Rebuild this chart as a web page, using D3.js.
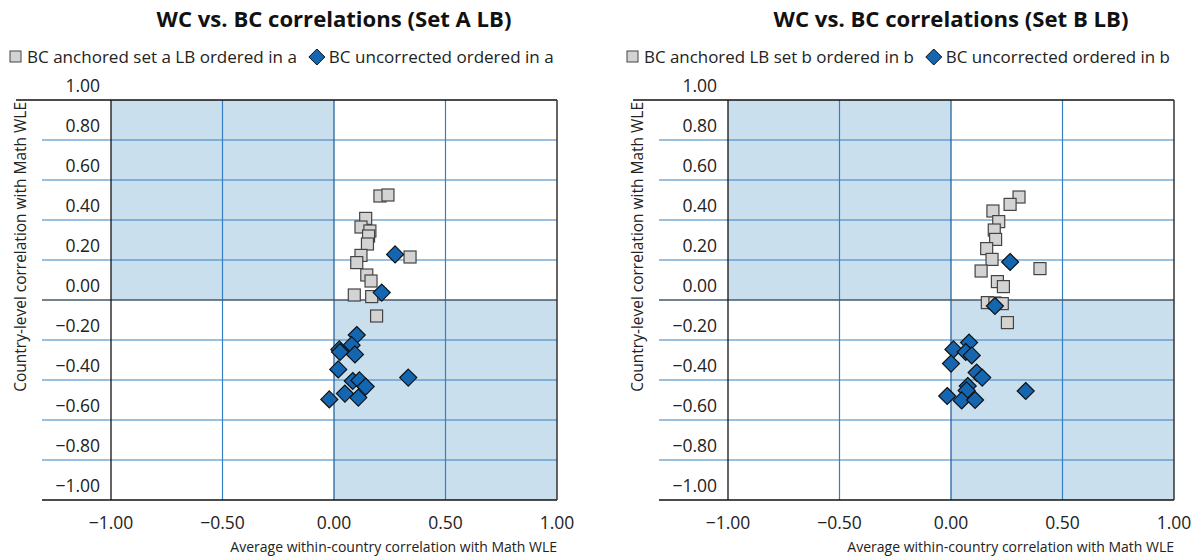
<!DOCTYPE html>
<html>
<head>
<meta charset="utf-8">
<script src="https://cdn.jsdelivr.net/npm/d3@7"></script>
<style>
  body { margin: 0; background: #fff; }
  svg { display: block; font-family: "Open Sans", Lato, sans-serif; }
</style>
</head>
<body>
<svg id="chart" width="1200" height="556"></svg>
<script>
// tick values shared by both panels
var xTicks = [-1, -0.5, 0, 0.5, 1];
var yTicks = [1, 0.8, 0.6, 0.4, 0.2, 0, -0.2, -0.4, -0.6, -0.8, -1];

// Set A LB
var titleA = "WC vs. BC correlations (Set A LB)";
var legendA = ["BC anchored set a LB ordered in a", "BC uncorrected ordered in a"];
var anchoredAx = [0.206, 0.242, 0.142, 0.121, 0.161, 0.155, 0.150, 0.121, 0.102, 0.147, 0.166, 0.091, 0.169, 0.341, 0.191];
var anchoredAy = [0.520, 0.525, 0.408, 0.365, 0.345, 0.320, 0.280, 0.223, 0.187, 0.125, 0.095, 0.025, 0.017, 0.215, -0.080];
var uncorrAx = [0.274, 0.214, 0.102, 0.079, 0.024, 0.027, 0.094, 0.019, 0.084, 0.114, 0.142, 0.049, 0.109, -0.021, 0.333];
var uncorrAy = [0.228, 0.037, -0.175, -0.226, -0.247, -0.260, -0.272, -0.347, -0.405, -0.402, -0.433, -0.468, -0.488, -0.497, -0.388];

// Set B LB
var titleB = "WC vs. BC correlations (Set B LB)";
var legendB = ["BC anchored LB set b ordered in b", "BC uncorrected ordered in b"];
var anchoredBx = [0.305, 0.265, 0.188, 0.214, 0.194, 0.200, 0.160, 0.184, 0.135, 0.399, 0.208, 0.235, 0.163, 0.197, 0.230, 0.253];
var anchoredBy = [0.515, 0.478, 0.445, 0.392, 0.350, 0.303, 0.257, 0.203, 0.145, 0.157, 0.092, 0.067, -0.013, -0.015, -0.018, -0.113];
var uncorrBx = [0.265, 0.197, 0.081, 0.011, 0.066, 0.093, 0.000, 0.115, 0.140, 0.075, 0.070, -0.017, 0.048, 0.108, 0.335];
var uncorrBy = [0.190, -0.030, -0.213, -0.247, -0.260, -0.277, -0.318, -0.363, -0.388, -0.430, -0.452, -0.480, -0.502, -0.500, -0.455];

var xTitle = "Average within-country correlation with Math WLE";
var yTitle = "Country-level correlation with Math WLE";

var gridBlue = "#3580c4";
var shade = "#cadfee";
var sqFill = "#d3d3d3";
var dmFill = "#1466b0";

function zip(xs, ys){
    return xs.map(function(v, i){ return {x: v, y: ys[i]}; });
}

function diamondPath(r){
    return "M0," + (-r) + "L" + r + ",0L0," + r + "L" + (-r) + ",0Z";
}

// shrink/grow a text node's font so it spans roughly the wanted width
function fitText(sel, base, width){
    sel.attr("font-size", base);
    let w = sel.node().getComputedTextLength();
    sel.attr("font-size", base * width / w);
    return sel;
}

function drawPanel(svg, left, title, legend, sq, dm){
    let plotW = 446, top = 100, plotH = 400;
    let g = svg.append("g");
    let x = d3.scaleLinear().domain([-1, 1]).range([left, left + plotW]);
    let y = d3.scaleLinear().domain([-1, 1]).range([top + plotH, top]);

    // shaded quadrants
    g.append("rect").attr("x", x(-1)).attr("y", y(1))
        .attr("width", x(0) - x(-1)).attr("height", y(0) - y(1)).attr("fill", shade);
    g.append("rect").attr("x", x(0)).attr("y", y(0))
        .attr("width", x(1) - x(0)).attr("height", y(-1) - y(0)).attr("fill", shade);

    // horizontal grid lines (extend into label area)
    g.selectAll(".hgrid").data(yTicks.filter(function(d){ return d != 1 && d != -1 && d != 0; }))
        .enter().append("line")
        .attr("x1", left - 69).attr("x2", x(1))
        .attr("y1", function(d){ return y(d); }).attr("y2", function(d){ return y(d); })
        .attr("stroke", gridBlue).attr("stroke-width", 1.2);

    // vertical grid lines
    g.selectAll(".vgrid").data([-0.5, 0.5])
        .enter().append("line")
        .attr("x1", function(d){ return x(d); }).attr("x2", function(d){ return x(d); })
        .attr("y1", y(1)).attr("y2", y(-1))
        .attr("stroke", gridBlue).attr("stroke-width", 1.2);
    g.append("line").attr("x1", x(0)).attr("x2", x(0)).attr("y1", y(1)).attr("y2", y(-1))
        .attr("stroke", "#2565a0").attr("stroke-width", 1.3);

    // zero line
    g.append("line").attr("x1", left - 69).attr("x2", x(1)).attr("y1", y(0)).attr("y2", y(0))
        .attr("stroke", "#45586a").attr("stroke-width", 1.5);

    // frame
    g.append("line").attr("x1", left - 95).attr("x2", x(1)).attr("y1", y(1)).attr("y2", y(1))
        .attr("stroke", "#111").attr("stroke-width", 1.3);
    g.append("line").attr("x1", left - 69).attr("x2", x(1)).attr("y1", y(-1)).attr("y2", y(-1))
        .attr("stroke", "#111").attr("stroke-width", 1.3);
    g.append("line").attr("x1", x(-1)).attr("x2", x(-1)).attr("y1", y(1)).attr("y2", y(-1))
        .attr("stroke", "#111").attr("stroke-width", 1.3);
    g.append("line").attr("x1", x(1)).attr("x2", x(1)).attr("y1", y(1)).attr("y2", y(-1))
        .attr("stroke", "#333").attr("stroke-width", 1.5);

    // y tick labels sit above their grid line
    g.selectAll(".ylab").data(yTicks).enter().append("text")
        .attr("x", left - 11).attr("y", function(d){ return y(d) - 8; })
        .attr("text-anchor", "end").attr("font-size", 17.5).attr("fill", "#222")
        .text(function(d){ return d3.format(".2f")(d); });

    // x tick labels
    g.selectAll(".xlab").data(xTicks).enter().append("text")
        .attr("x", function(d){ return x(d); }).attr("y", 529)
        .attr("text-anchor", "middle").attr("font-size", 17.5).attr("fill", "#222")
        .text(function(d){ return d3.format(".2f")(d); });

    // axis titles
    fitText(g.append("text").attr("x", x(1)).attr("y", 552).attr("text-anchor", "end")
        .attr("fill", "#222").text(xTitle), 13, 327);
    fitText(g.append("text").attr("transform", "translate(" + (left - 85) + "," + 102 + ") rotate(-90)")
        .attr("text-anchor", "end").attr("fill", "#222").text(yTitle), 13, 290);

    // title
    fitText(g.append("text").attr("x", x(0)).attr("y", 27).attr("text-anchor", "middle")
        .attr("font-weight", "bold").attr("fill", "#111").text(title), 18, 355);

    // legend
    let lx = left - 101;
    g.append("rect").attr("x", lx).attr("y", 51).attr("width", 11).attr("height", 11)
        .attr("fill", sqFill).attr("stroke", "#444").attr("stroke-width", 1);
    let t1 = fitText(g.append("text").attr("x", lx + 17).attr("y", 63)
        .attr("fill", "#222").text(legend[0]), 15, 270);
    let w1 = t1.node().getComputedTextLength();
    let dx = lx + 17 + w1 + 20;
    g.append("path").attr("d", diamondPath(8)).attr("transform", "translate(" + dx + ",57)")
        .attr("fill", dmFill).attr("stroke", "#111").attr("stroke-width", 1);
    g.append("text").attr("x", dx + 12).attr("y", 63).attr("font-size", t1.attr("font-size"))
        .attr("fill", "#222").text(legend[1]);

    // markers
    let clip = "clip" + left;
    svg.append("clipPath").attr("id", clip).append("rect")
        .attr("x", x(-1)).attr("y", y(1)).attr("width", plotW).attr("height", plotH);
    let pts = g.append("g").attr("clip-path", "url(#" + clip + ")");
    pts.selectAll(".sq").data(sq).enter().append("rect")
        .attr("x", function(d){ return x(d.x) - 6; })
        .attr("y", function(d){ return y(d.y) - 6; })
        .attr("width", 12).attr("height", 12)
        .attr("fill", sqFill).attr("stroke", "#444").attr("stroke-width", 1.2);
    pts.selectAll(".dm").data(dm).enter().append("path")
        .attr("d", diamondPath(8.5))
        .attr("transform", function(d){ return "translate(" + x(d.x) + "," + y(d.y) + ")"; })
        .attr("fill", dmFill).attr("stroke", "#111").attr("stroke-width", 1.2);
}

var svg = d3.select("#chart");
drawPanel(svg, 111, titleA, legendA, zip(anchoredAx, anchoredAy), zip(uncorrAx, uncorrAy));
drawPanel(svg, 728, titleB, legendB, zip(anchoredBx, anchoredBy), zip(uncorrBx, uncorrBy));
</script>
</body>
</html>
